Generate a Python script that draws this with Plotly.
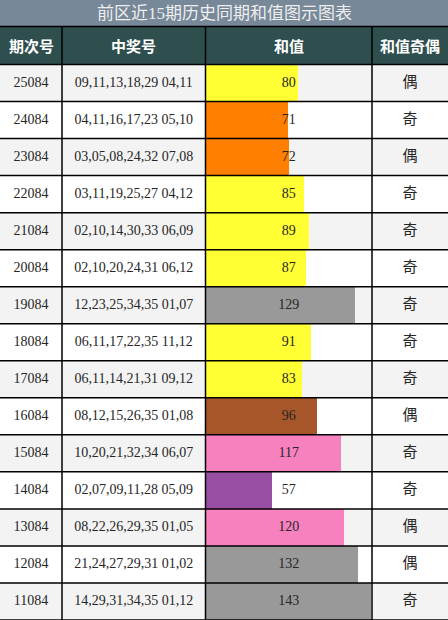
import plotly.graph_objects as go

periods = ["25084", "24084", "23084", "22084", "21084", "20084", "19084", "18084",
           "17084", "16084", "15084", "14084", "13084", "12084", "11084"]
numbers = ["09,11,13,18,29 04,11", "04,11,16,17,23 05,10", "03,05,08,24,32 07,08",
           "03,11,19,25,27 04,12", "02,10,14,30,33 06,09", "02,10,20,24,31 06,12",
           "12,23,25,34,35 01,07", "06,11,17,22,35 11,12", "06,11,14,21,31 09,12",
           "08,12,15,26,35 01,08", "10,20,21,32,34 06,07", "02,07,09,11,28 05,09",
           "08,22,26,29,35 01,05", "21,24,27,29,31 01,02", "14,29,31,34,35 01,12"]
sums = [80, 71, 72, 85, 89, 87, 129, 91, 83, 96, 117, 57, 120, 132, 143]
parity = ["偶", "奇", "偶", "奇", "奇", "奇", "奇", "奇", "奇", "偶", "奇", "奇", "偶", "偶", "奇"]
headers = ["期次号", "中奖号", "和值", "和值奇偶"]
title = "前区近15期历史同期和值图示图表"
x_max = 144


def bar_color(v):
    if v < 60:
        return "#984EA3"
    if v < 80:
        return "#FF7F00"
    if v < 95:
        return "#FFFF33"
    if v < 110:
        return "#A65628"
    if v < 125:
        return "#F781BF"
    return "#999999"


W, H = 448, 620
col_edges = [0, 62, 205.5, 372, 448]
title_h = 26.5
header_bottom = 64.5
rows_top_frac = 1 - header_bottom / H
n = len(periods)
idx = list(range(n))
FONT = "Liberation Serif, Noto Sans CJK SC"

fig = go.Figure()

# bars
fig.add_trace(go.Bar(
    x=sums, y=idx, orientation="h", width=1,
    marker=dict(color=[bar_color(v) for v in sums], line=dict(width=0)),
    xaxis="x", yaxis="y", hoverinfo="skip", showlegend=False,
))

cx = [(col_edges[i] + col_edges[i + 1]) / 2 / W for i in range(4)]

# texts
fig.add_trace(go.Scatter(x=[cx[0]] * n, y=idx, mode="text", text=periods,
                         textfont=dict(family=FONT, size=14, color="#262626"),
                         xaxis="x2", yaxis="y", showlegend=False, hoverinfo="skip"))
fig.add_trace(go.Scatter(x=[cx[1]] * n, y=idx, mode="text", text=numbers,
                         textfont=dict(family=FONT, size=14, color="#262626"),
                         xaxis="x2", yaxis="y", showlegend=False, hoverinfo="skip"))
fig.add_trace(go.Scatter(x=[cx[2]] * n, y=idx, mode="text", text=[str(v) for v in sums],
                         textfont=dict(family=FONT, size=14, color="#262626"),
                         xaxis="x2", yaxis="y", showlegend=False, hoverinfo="skip"))
fig.add_trace(go.Scatter(x=[cx[3]] * n, y=idx, mode="text", text=parity,
                         textfont=dict(family="Noto Sans CJK SC", size=15, color="#262626"),
                         xaxis="x2", yaxis="y", showlegend=False, hoverinfo="skip"))

shapes = []
# row backgrounds
for i in idx:
    shapes.append(dict(type="rect", xref="paper", yref="y", x0=0, x1=1,
                       y0=i - 0.5, y1=i + 0.5, layer="below", line=dict(width=0),
                       fillcolor="#F3F3F3" if i % 2 == 0 else "#FFFFFF"))
# title bar and header
shapes.append(dict(type="rect", xref="paper", yref="paper", x0=0, x1=1,
                   y0=1 - title_h / H, y1=1, fillcolor="#778899", line=dict(width=0), layer="below"))
shapes.append(dict(type="rect", xref="paper", yref="paper", x0=0, x1=1,
                   y0=rows_top_frac, y1=1 - title_h / H, fillcolor="#2F4F4F", line=dict(width=0), layer="below"))
# horizontal grid lines
for i in idx:
    shapes.append(dict(type="line", xref="paper", yref="y", x0=0, x1=1,
                       y0=i + 0.5, y1=i + 0.5, line=dict(color="#000", width=1.5)))
shapes.append(dict(type="line", xref="paper", yref="paper", x0=0, x1=1,
                   y0=rows_top_frac, y1=rows_top_frac, line=dict(color="#000", width=1.5)))
shapes.append(dict(type="line", xref="paper", yref="paper", x0=0, x1=1,
                   y0=1 - title_h / H, y1=1 - title_h / H, line=dict(color="#000", width=1.5)))
# vertical grid lines
for e in col_edges[1:4]:
    shapes.append(dict(type="line", xref="paper", yref="paper", x0=e / W, x1=e / W,
                       y0=0, y1=1 - title_h / H, line=dict(color="#000", width=1.5)))

annotations = []
annotations.append(dict(text=title, xref="paper", yref="paper", x=0.5, y=1 - title_h / 2 / H,
                        showarrow=False, font=dict(family=FONT, size=17, color="#EEEEEE"),
                        xanchor="center", yanchor="middle"))
hy = 1 - (title_h + header_bottom) / 2 / H
for i, h in enumerate(headers):
    annotations.append(dict(text="<b>" + h + "</b>", xref="paper", yref="paper", x=cx[i], y=hy,
                            showarrow=False, font=dict(family="Noto Sans CJK SC", size=15, color="#FFFFFF"),
                            xanchor="center", yanchor="middle"))

fig.update_layout(
    width=W, height=H, margin=dict(l=0, r=0, t=0, b=0),
    paper_bgcolor="#FFFFFF", plot_bgcolor="rgba(0,0,0,0)",
    xaxis=dict(domain=[col_edges[2] / W + 0.5 / W, col_edges[3] / W], range=[0, x_max],
               visible=False, fixedrange=True),
    xaxis2=dict(domain=[0, 1], range=[0, 1], visible=False, anchor="y", fixedrange=True),
    yaxis=dict(domain=[0, rows_top_frac], range=[n - 0.5, -0.5], visible=False, fixedrange=True),
    shapes=shapes, annotations=annotations, bargap=0,
)

fig.write_html("out.html")
